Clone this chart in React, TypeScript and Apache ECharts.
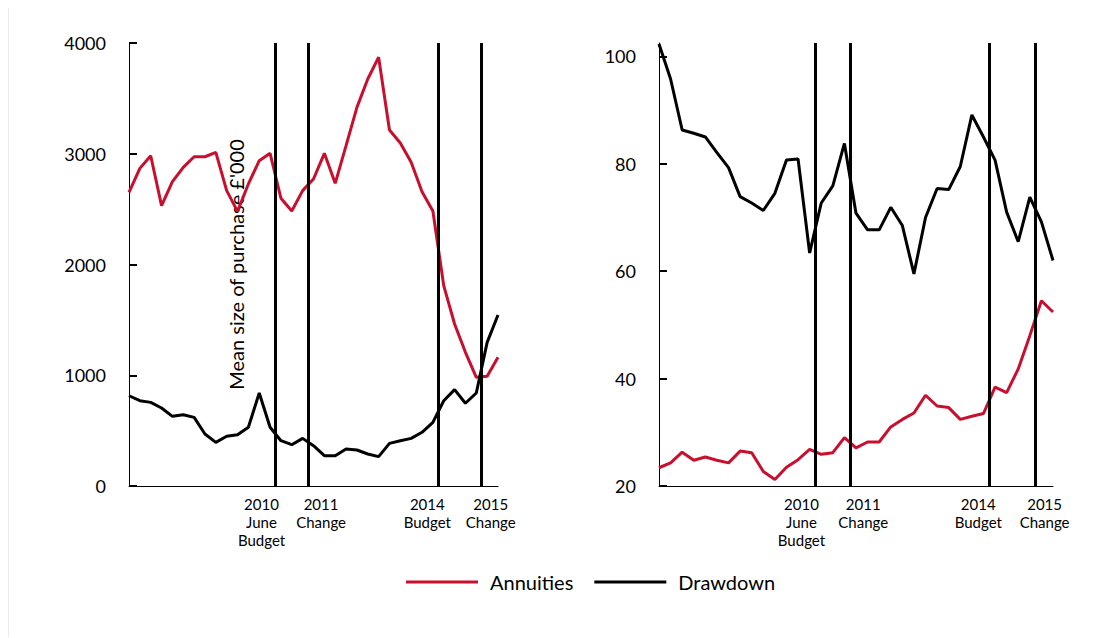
import React, { useEffect, useRef } from "react";
import * as echarts from "echarts";

const quarters = [
  "2007Q1","2007Q2","2007Q3","2007Q4","2008Q1","2008Q2","2008Q3","2008Q4",
  "2009Q1","2009Q2","2009Q3","2009Q4","2010Q1","2010Q2","2010Q3","2010Q4",
  "2011Q1","2011Q2","2011Q3","2011Q4","2012Q1","2012Q2","2012Q3","2012Q4",
  "2013Q1","2013Q2","2013Q3","2013Q4","2014Q1","2014Q2","2014Q3","2014Q4",
  "2015Q1","2015Q2","2015Q3",
];

// Left panel: mean size of purchase (£'000)
const leftAnnuities = [2652, 2868, 2982, 2531, 2748, 2877, 2973, 2973, 3013, 2667, 2480, 2727, 2937, 3004, 2598, 2483, 2667, 2772, 3004, 2733, 3073, 3419, 3675, 3871, 3214, 3097, 2923, 2657, 2483, 1809, 1463, 1207, 981, 990, 1162];
const leftDrawdown = [815, 770, 755, 704, 629, 644, 620, 470, 394, 449, 463, 530, 840, 530, 409, 373, 430, 364, 274, 274, 334, 325, 289, 265, 385, 409, 430, 485, 575, 770, 870, 747, 840, 1297, 1544];

// Right panel
const rightDrawdown = [102.3, 95.8, 86.3, 85.7, 85.0, 82.1, 79.3, 73.9, 72.7, 71.3, 74.5, 80.7, 80.9, 63.4, 72.7, 75.9, 83.8, 70.8, 67.7, 67.7, 71.9, 68.5, 59.5, 70.0, 75.4, 75.2, 79.5, 89.1, 85.0, 80.7, 71.0, 65.5, 73.8, 69.2, 62.0];
const rightAnnuities = [23.4, 24.3, 26.3, 24.8, 25.4, 24.8, 24.3, 26.5, 26.2, 22.7, 21.2, 23.5, 24.9, 26.8, 25.9, 26.2, 29.0, 27.1, 28.2, 28.2, 31.0, 32.4, 33.6, 36.9, 34.9, 34.6, 32.4, 33.0, 33.5, 38.4, 37.4, 41.8, 48.0, 54.5, 52.4];

// Policy events (position in quarter index units)
const eventLabels = ["2010\nJune\nBudget", "2011\nChange", "2014\nBudget", "2015\nChange"];
const eventPositions = [13.5, 16.5, 28.5, 32.5];

const leftTicks = [0, 1000, 2000, 3000, 4000];
const rightTicks = [20, 40, 60, 80, 100];

const seriesNames = ["Annuities", "Drawdown"];

const RED = "#c8102e";
const FONT = "Lato";
const labelOffsetsX = [-14, 13, -11, 9];

function App() {
  const ref = useRef<HTMLDivElement>(null);

  useEffect(() => {
    if (!ref.current) return;
    const chart = echarts.init(ref.current, null, { renderer: "svg" });

    const toPairs = (arr: number[]) => arr.map((v, i) => [i, v]);

    const eventMarkLine = {
      silent: true,
      symbol: ["none", "none"],
      lineStyle: { color: "#000", width: 3, type: "solid" },
      label: {
        show: true,
        position: "start",
        distance: 9,
        color: "#000",
        fontFamily: FONT,
        fontSize: 15,
        lineHeight: 18,
        align: "center",
      },
      emphasis: { disabled: true },
      data: eventPositions.map((p, i) => ({
        xAxis: p,
        label: { formatter: eventLabels[i], offset: [labelOffsetsX[i], 0] },
      })),
    };

    const xAxisBase = {
      type: "value",
      min: 0,
      max: quarters.length - 1,
      axisLine: { show: true, lineStyle: { color: "#000", width: 1 } },
      axisTick: { show: false },
      axisLabel: { show: false },
      splitLine: { show: false },
    };

    const yAxisBase = {
      type: "value",
      axisLine: { show: true, lineStyle: { color: "#000", width: 1 } },
      axisTick: { show: true, inside: true, length: 8, lineStyle: { color: "#000", width: 2 } },
      axisLabel: {
        color: "#000",
        fontFamily: FONT,
        fontSize: 18,
        margin: 23,
        formatter: (v: number) => String(v),
      },
      splitLine: { show: false },
    };

    chart.setOption({
      animation: false,
      textStyle: { fontFamily: FONT },
      legend: {
        data: seriesNames,
        left: 392,
        top: 559,
        icon: "rect",
        itemWidth: 72,
        itemHeight: 3,
        itemGap: 21,
        textStyle: { color: "#000", fontSize: 20, fontFamily: FONT, padding: [0, 0, 0, 7] },
      },
      grid: [
        { left: 120, top: 35, width: 369, height: 443 },
        { left: 650, top: 35, width: 394, height: 443 },
      ],
      xAxis: [
        { ...xAxisBase, gridIndex: 0 },
        { ...xAxisBase, gridIndex: 1 },
      ],
      yAxis: [
        {
          ...yAxisBase,
          gridIndex: 0,
          min: 0,
          max: 4000,
          interval: 1000,
          axisLabel: { ...yAxisBase.axisLabel, customValues: leftTicks },
          axisTick: { ...yAxisBase.axisTick, customValues: leftTicks },
          name: "Mean size of purchase £'000",
          nameLocation: "middle",
          nameRotate: 90,
          nameGap: -117,
          nameTextStyle: { color: "#000", fontFamily: FONT, fontSize: 20 },
        },
        {
          ...yAxisBase,
          gridIndex: 1,
          min: 20,
          max: 102.5,
          axisLabel: { ...yAxisBase.axisLabel, customValues: rightTicks },
          axisTick: { ...yAxisBase.axisTick, customValues: rightTicks },
        },
      ],
      series: [
        {
          name: seriesNames[0], type: "line", xAxisIndex: 0, yAxisIndex: 0,
          data: toPairs(leftAnnuities), showSymbol: false, symbol: "none",
          lineStyle: { color: RED, width: 3 }, itemStyle: { color: RED },
          markLine: eventMarkLine, z: 3,
        },
        {
          name: seriesNames[1], type: "line", xAxisIndex: 0, yAxisIndex: 0,
          data: toPairs(leftDrawdown), showSymbol: false, symbol: "none",
          lineStyle: { color: "#000", width: 3 }, itemStyle: { color: "#000" }, z: 3,
        },
        {
          name: seriesNames[0], type: "line", xAxisIndex: 1, yAxisIndex: 1,
          data: toPairs(rightAnnuities), showSymbol: false, symbol: "none",
          lineStyle: { color: RED, width: 3 }, itemStyle: { color: RED },
          markLine: eventMarkLine, z: 3,
        },
        {
          name: seriesNames[1], type: "line", xAxisIndex: 1, yAxisIndex: 1,
          data: toPairs(rightDrawdown), showSymbol: false, symbol: "none",
          lineStyle: { color: "#000", width: 3 }, itemStyle: { color: "#000" }, z: 3,
        },
      ],
    });

    return () => chart.dispose();
  }, []);

  return (
    <div
      style={{
        width: 1088,
        height: 630,
        boxSizing: "border-box",
        borderTop: "1px solid #ebebeb",
        borderLeft: "1px solid #ebebeb",
        marginTop: -1,
      }}
    >
      <div ref={ref} style={{ width: 1087, height: 629 }} />
    </div>
  );
}

export default App;
